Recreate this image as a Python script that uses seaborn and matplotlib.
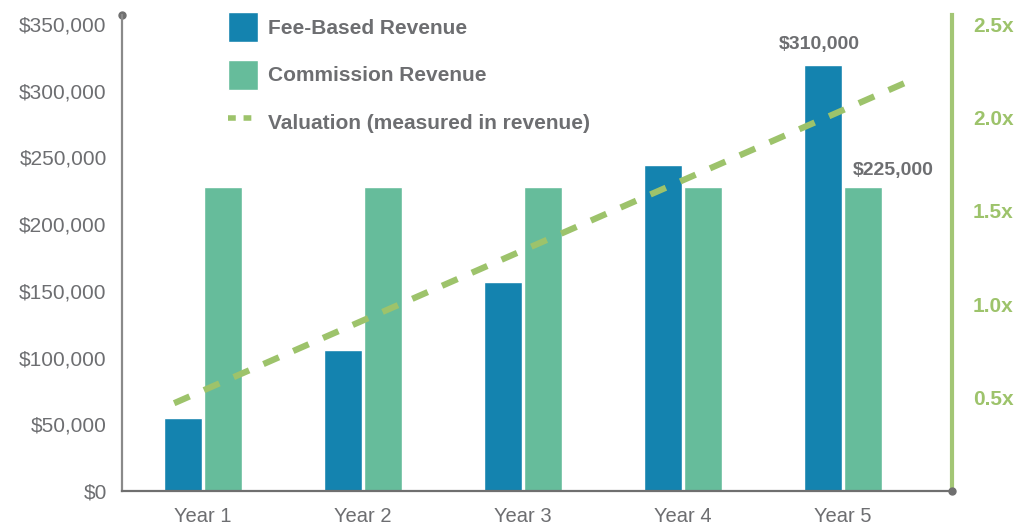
import matplotlib
matplotlib.use("Agg")
import matplotlib.pyplot as plt
import matplotlib.ticker as mticker
from matplotlib.lines import Line2D
import seaborn as sns
import pandas as pd

years = ["Year 1", "Year 2", "Year 3", "Year 4", "Year 5"]
fee_based = [55000, 106000, 157000, 244000, 319000]
commission = [228000, 228000, 228000, 228000, 228000]
series_names = ["Fee-Based Revenue", "Commission Revenue"]
valuation_label = "Valuation (measured in revenue)"
# dashed valuation trend, given at its two ends (category positions)
valuation_x = [-0.18, 4.40]
valuation = [0.47, 2.19]
annotations = [("$310,000", 0, 4), ("$225,000", 1, 4)]  # text, series, year index

blue = "#1483af"
green = "#66bc9b"
line_green = "#9dc36b"
axis_green = "#a3c675"
text_gray = "#6d6e71"

df = pd.DataFrame({
    "year": years * 2,
    "series": [series_names[0]] * 5 + [series_names[1]] * 5,
    "revenue": fee_based + commission,
})

sns.set_theme(style="white")
plt.rcParams["font.family"] = ["Liberation Sans", "DejaVu Sans"]

fig = plt.figure(figsize=(10.19, 5.25), dpi=100)
ax = fig.add_axes([0.1197, 0.0648, 0.8145, 0.9066])

sns.barplot(data=df, x="year", y="revenue", hue="series", order=years,
            hue_order=series_names, palette=[blue, green], width=0.5,
            gap=0.05, saturation=1, ax=ax)
bar_handles, bar_labels = ax.get_legend_handles_labels()
ax.get_legend().remove()

ax.set_xlim(-0.506, 4.68)
ax.set_ylim(0, 356800)
ax.set_xlabel("")
ax.set_ylabel("")
ax.yaxis.set_major_locator(mticker.MultipleLocator(50000))
ax.yaxis.set_major_formatter(mticker.FuncFormatter(lambda v, p: f"${v:,.0f}"))
ax.tick_params(axis="y", length=0, pad=11, labelsize=15, labelcolor=text_gray)
ax.tick_params(axis="x", length=0, pad=11.5, labelsize=14.5, labelcolor=text_gray)

for side in ["top", "right"]:
    ax.spines[side].set_visible(False)
ax.spines["left"].set_color("#8a8a8a")
ax.spines["left"].set_linewidth(1.6)
ax.spines["bottom"].set_color("#6f6f6f")
ax.spines["bottom"].set_linewidth(1.6)
ax.plot([0], [1], "o", color="#6f6f6f", ms=5, transform=ax.transAxes, clip_on=False)

# value labels over the year 5 bars
for text, s, i in annotations:
    bar = ax.containers[s][i]
    cx = bar.get_x() + bar.get_width() / 2
    dx = -3 if s == 0 else 22
    dy = 9 if s == 0 else 5.5
    ax.annotate(text, (cx, bar.get_height()), xytext=(dx, dy),
                textcoords="offset points", ha="center", va="bottom",
                fontsize=14, fontweight="bold", color=text_gray)

ax2 = ax.twinx()
sns.lineplot(x=valuation_x, y=valuation, color=line_green, lw=4.5,
             linestyle=(0, (2.7, 2.5)), ax=ax2)
ax2.set_ylim(0, 356800 / 140000)
ax2.set_yticks([0.5, 1.0, 1.5, 2.0, 2.5])
ax2.yaxis.set_major_formatter(mticker.FuncFormatter(lambda v, p: f"{v:.1f}x"))
ax2.tick_params(axis="y", length=0, pad=15, labelsize=15, labelcolor=line_green)
for lab in ax2.get_yticklabels():
    lab.set_fontweight("bold")
for side in ["top", "left", "bottom"]:
    ax2.spines[side].set_visible(False)
ax2.spines["right"].set_color(axis_green)
ax2.spines["right"].set_linewidth(3)
ax2.plot([1], [0], "o", color="#6f6f6f", ms=5, transform=ax2.transAxes,
         clip_on=False, zorder=5)

line_handle = Line2D([], [], color=line_green, lw=4, linestyle=(0, (1.4, 1.4)))
fig.legend(bar_handles + [line_handle], bar_labels + [valuation_label],
           loc="upper left", bbox_to_anchor=(228 / 1019, 1 - 12 / 525),
           bbox_transform=fig.transFigure, frameon=False, borderpad=0,
           borderaxespad=0, handlelength=1.44, handleheight=1.84,
           handletextpad=0.5, labelspacing=0.85, labelcolor=text_gray,
           prop={"size": 15, "weight": "bold"})

fig.savefig("out.png", dpi=100)
